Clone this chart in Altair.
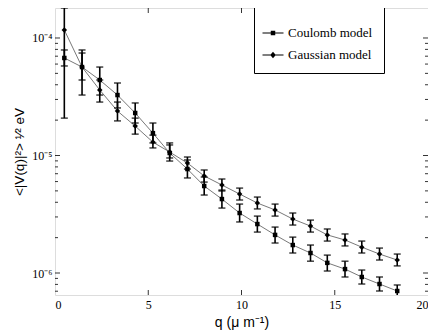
import altair as alt
import pandas as pd

# ---- data ----
q = [0.5, 1.45, 2.4, 3.35, 4.3, 5.25, 6.15, 7.1, 8.0, 8.95,
     9.9, 10.85, 11.8, 12.75, 13.7, 14.6, 15.55, 16.45, 17.4, 18.35]

gauss_v = [1.17e-4, 5.66e-5, 3.61e-5, 2.39e-5, 1.78e-5, 1.30e-5, 1.07e-5, 8.63e-6, 6.70e-6, 5.61e-6,
           4.70e-6, 3.94e-6, 3.44e-6, 2.88e-6, 2.51e-6, 2.11e-6, 1.91e-6, 1.66e-6, 1.45e-6, 1.29e-6]
gauss_hi = [1.80e-4, 7.91e-5, 4.39e-5, 2.85e-5, 2.08e-5, 1.49e-5, 1.23e-5, 9.71e-6, 7.53e-6, 6.31e-6,
            5.28e-6, 4.43e-6, 3.86e-6, 3.24e-6, 2.82e-6, 2.37e-6, 2.15e-6, 1.87e-6, 1.63e-6, 1.45e-6]
gauss_lo = [2.08e-5, 3.27e-5, 2.85e-5, 1.97e-5, 1.52e-5, 1.16e-5, 9.53e-6, 7.67e-6, 5.94e-6, 4.99e-6,
            4.18e-6, 3.51e-6, 3.05e-6, 2.56e-6, 2.23e-6, 1.87e-6, 1.70e-6, 1.48e-6, 1.29e-6, 1.15e-6]

coul_v = [6.76e-5, 5.66e-5, 4.39e-5, 3.27e-5, 2.30e-5, 1.55e-5, 1.05e-5, 7.67e-6, 5.50e-6, 4.26e-6,
          3.24e-6, 2.61e-6, 2.11e-6, 1.73e-6, 1.48e-6, 1.22e-6, 1.08e-6, 9.25e-7, 8.06e-7, 7.03e-7]
coul_hi = [7.91e-5, 7.45e-5, 5.66e-5, 4.14e-5, 2.80e-5, 1.89e-5, 1.28e-5, 9.16e-6, 6.56e-6, 5.08e-6,
           3.86e-6, 3.05e-6, 2.46e-6, 2.02e-6, 1.73e-6, 1.42e-6, 1.26e-6, 1.06e-6, 9.25e-7, 7.91e-7]
coul_lo = [5.78e-5, 4.39e-5, 3.27e-5, 2.54e-5, 1.89e-5, 1.28e-5, 8.97e-6, 6.44e-6, 4.61e-6, 3.57e-6,
           2.72e-6, 2.23e-6, 1.80e-6, 1.48e-6, 1.26e-6, 1.04e-6, 9.25e-7, 8.06e-7, 7.03e-7, 6.30e-7]

series_names = ["Coulomb model", "Gaussian model"]
x_ticks = [0, 5, 10, 15, 20]
y_major = [1e-6, 1e-5, 1e-4]
y_minor = [7e-7, 8e-7, 9e-7,
           2e-6, 3e-6, 4e-6, 5e-6, 6e-6, 7e-6, 8e-6, 9e-6,
           2e-5, 3e-5, 4e-5, 5e-5, 6e-5, 7e-5, 8e-5, 9e-5]

W, H = 373, 287

rows = []
for name, v, lo, hi in [("Coulomb model", coul_v, coul_lo, coul_hi),
                        ("Gaussian model", gauss_v, gauss_lo, gauss_hi)]:
    for i in range(len(q)):
        rows.append({"series": name, "q": q[i], "v": v[i], "lo": lo[i], "hi": hi[i]})
df = pd.DataFrame(rows)

xs = alt.Scale(domain=[0, 20], nice=False, zero=False)
ys = alt.Scale(type="log", domain=[6.5e-7, 1.8e-4], nice=False)

x_axis = alt.Axis(values=x_ticks, ticks=False, domain=False, grid=False,
                  labelFont="Liberation Serif", labelFontSize=12, labelColor="black",
                  labelPadding=4, titleFont="Liberation Sans", titleFontSize=14,
                  titleFontWeight="normal", titleColor="black", titlePadding=5)
y_axis = alt.Axis(values=y_major, ticks=False, domain=False, grid=False,
                  labelExpr="datum.value < 5e-6 ? '10⁻⁶' : (datum.value < 5e-5 ? '10⁻⁵' : '10⁻⁴')",
                  labelFont="Liberation Serif", labelFontSize=12, labelColor="black",
                  labelPadding=3, titleFont="Liberation Sans", titleFontSize=13.5,
                  titleFontWeight="normal", titleColor="black", titlePadding=5)
X_TITLE = "q (μ m⁻¹)"
Y_TITLE = "<|V(q)|²> ¹⁄² eV"


def X(field="q:Q"):
    return alt.X(field, scale=xs, axis=x_axis, title=X_TITLE)


def Y(field="v:Q"):
    return alt.Y(field, scale=ys, axis=y_axis, title=Y_TITLE)


base = alt.Chart(df)

lines = base.mark_line(color="#555555", strokeWidth=0.8, clip=True).encode(
    x=X(), y=Y(), detail="series:N")

err = base.mark_rule(color="black", strokeWidth=1.6, clip=True).encode(
    x=X(), y=Y("lo:Q"), y2="hi:Q")
cap_hi = base.mark_tick(orient="horizontal", size=7, thickness=1.6, color="black", clip=True).encode(
    x=X(), y=Y("hi:Q"))
cap_lo = base.mark_tick(orient="horizontal", size=7, thickness=1.6, color="black", clip=True).encode(
    x=X(), y=Y("lo:Q"))

pts_c = base.transform_filter(alt.datum.series == "Coulomb model").mark_point(
    shape="square", filled=True, size=20, color="black", opacity=1).encode(x=X(), y=Y())
pts_g = base.transform_filter(alt.datum.series == "Gaussian model").mark_point(
    shape="diamond", filled=True, size=30, color="black", opacity=1).encode(x=X(), y=Y())

# legend symbols: a short line with the marker on it (all filled areas)
sym_sq = ("M-0.75,-0.035L0.75,-0.035L0.75,0.035L-0.75,0.035Z"
          "M-0.16,-0.16L0.16,-0.16L0.16,0.16L-0.16,0.16Z")
sym_di = ("M-0.75,-0.035L0.75,-0.035L0.75,0.035L-0.75,0.035Z"
          "M0,-0.24L0.2,0L0,0.24L-0.2,0Z")
legend_layer = alt.Chart(df).transform_filter("false").mark_point(
    filled=True, color="black", opacity=1).encode(
    shape=alt.Shape("series:N",
                    scale=alt.Scale(domain=series_names, range=[sym_sq, sym_di]),
                    legend=alt.Legend(title=None, orient="none", legendX=199, legendY=-1,
                                      symbolSize=784, symbolFillColor="black",
                                      symbolOffset=-7,
                                      labelFont="Liberation Serif", labelFontSize=13,
                                      labelColor="black", labelOffset=0,
                                      padding=11, rowPadding=0,
                                      strokeColor="black", fillColor="white")))

tick_y = pd.DataFrame({"v": y_major + y_minor,
                       "kind": ["major"] * len(y_major) + ["minor"] * len(y_minor)})
ty = alt.Chart(tick_y)
ymaj = ty.transform_filter(alt.datum.kind == "major")
ymin = ty.transform_filter(alt.datum.kind == "minor")
tk = dict(color="black", strokeWidth=0.8)
yl_maj = ymaj.mark_rule(**tk).encode(y=Y(), x=alt.value(0), x2=alt.value(5))
yl_min = ymin.mark_rule(**tk).encode(y=Y(), x=alt.value(0), x2=alt.value(3))
yr_maj = ymaj.mark_rule(**tk).encode(y=Y(), x=alt.value(W), x2=alt.value(W - 5))
yr_min = ymin.mark_rule(**tk).encode(y=Y(), x=alt.value(W), x2=alt.value(W - 3))

tx = alt.Chart(pd.DataFrame({"q": x_ticks[1:-1]}))
xb = tx.mark_rule(**tk).encode(x=X(), y=alt.value(H), y2=alt.value(H - 5))
xt = tx.mark_rule(**tk).encode(x=X(), y=alt.value(0), y2=alt.value(5))

chart = alt.layer(
    lines, err, cap_hi, cap_lo, pts_c, pts_g, legend_layer,
    yl_maj, yl_min, yr_maj, yr_min, xb, xt
).properties(
    width=W, height=H,
    autosize=alt.AutoSizeParams(type="none"),
    padding={"left": 47, "top": 0, "right": 0, "bottom": 38},
).configure_view(stroke="black", strokeWidth=1).configure(background="white")

chart.save("out.html", embed_options={"renderer": "svg", "actions": False})
